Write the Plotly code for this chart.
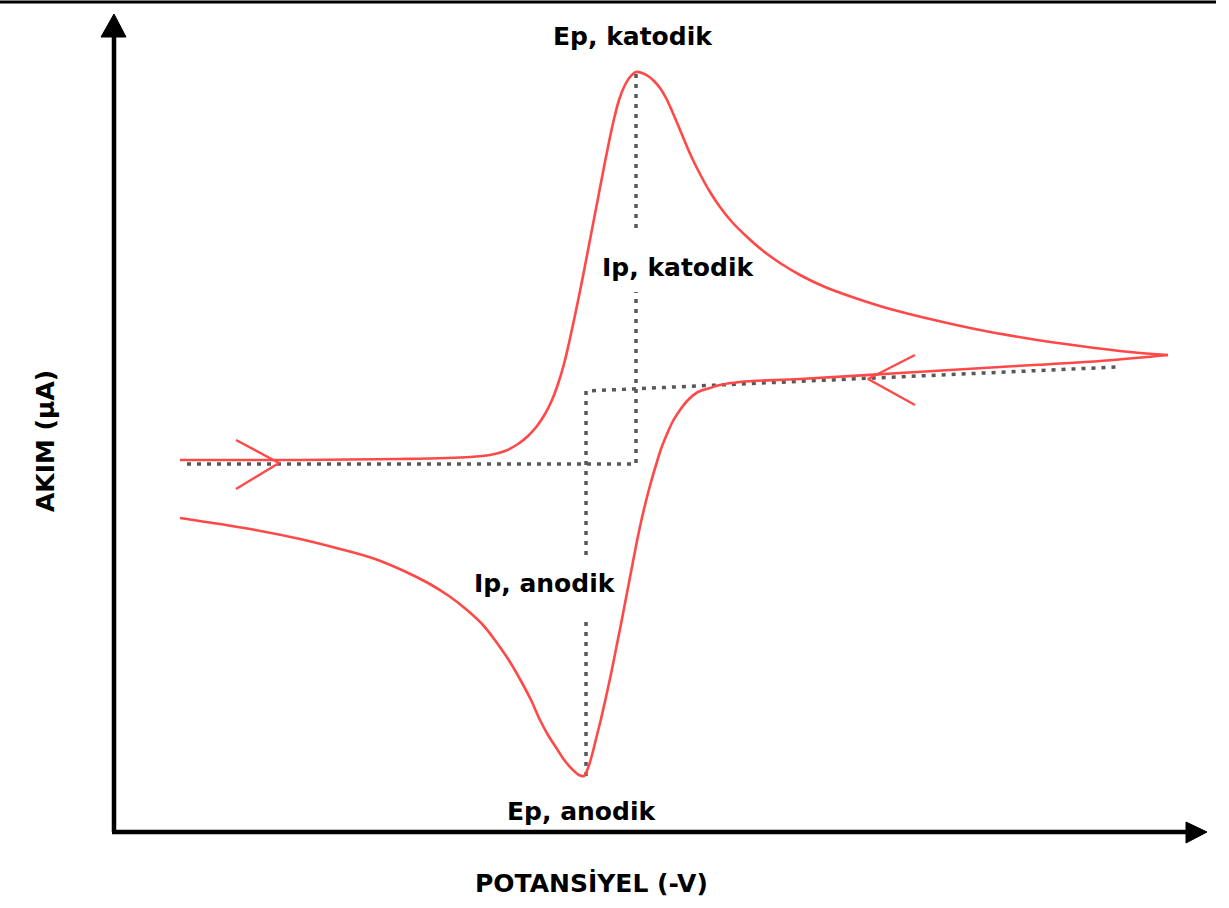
import plotly.graph_objects as go

# Data coordinates: potential (x) and current (y), origin at the axes corner
# Forward (cathodic) sweep – upper branch
fwd_E = [66, 186, 286, 356, 376, 391, 404, 414, 423, 431, 438, 444, 450, 455, 460, 465,
         470, 475, 480, 485, 490, 495, 500, 505, 510, 516, 522, 528, 534, 540, 546, 552,
         558, 564, 571, 578, 586, 596, 606, 618, 632, 648, 666, 686, 711, 741, 776, 816,
         861, 911, 966, 1016, 1054]
fwd_I = [372, 372, 373, 375, 377, 381, 388, 396, 406, 418, 432, 448, 468, 489, 512, 536,
         561, 587, 613, 639, 665, 690, 713, 732, 745, 755, 760, 759, 756, 751, 744, 734,
         721, 707, 690, 674, 658, 640, 625, 610, 596, 582, 569, 557, 545, 534, 523, 513,
         503, 494, 486, 480, 477]

# Reverse (anodic) sweep – lower branch
rev_E = [1054, 986, 886, 786, 686, 626, 606, 596, 584, 574, 566, 559, 553, 547, 542, 537,
         532, 527, 522, 517, 512, 507, 502, 497, 492, 487, 482, 478, 474, 470, 465, 459,
         451, 443, 434, 426, 417, 407, 396, 383, 369, 353, 335, 314, 290, 261, 226, 186,
         136, 66]
rev_I = [477, 471, 465, 459, 453, 450, 447, 444, 440, 432, 422, 411, 398, 383, 367, 350,
         331, 310, 286, 260, 234, 208, 183, 158, 135, 113, 93, 77, 64, 56, 57, 62,
         71, 83, 97, 112, 132, 151, 170, 189, 207, 222, 236, 249, 261, 273, 283, 293,
         303, 314]

# Dotted construction lines (None = interruption behind a label)
cat_E = [73, 522, 522, None, 522, 522]
cat_I = [368, 368, 540, None, 604, 760]
an_E = [472, 472, None, 472, 472, 1003]
an_I = [56, 214, None, 277, 441, 465]

# Sweep direction chevrons
chev1_E = [122, 165, 122]
chev1_I = [392, 369, 343]
chev2_E = [801, 754, 801]
chev2_I = [477, 453, 427]

# Axes with arrow heads
xaxis_E = [-2, 1073]
xaxis_I = [0, 0]
yaxis_E = [0, 0]
yaxis_I = [0, 796]
xhead_E = [1072, 1072, 1093, 1072]
xhead_I = [10, -11, 0, 10]
yhead_E = [-13, 12, 0, -13]
yhead_I = [795, 795, 818, 795]

labels = ["Ep, katodik", "Ip, katodik", "Ip, anodik", "Ep, anodik"]
label_E = [519, 564, 431, 467]
label_I = [796, 565, 249, 21]

RED = "rgb(255,72,72)"
DOT = "rgb(88,88,88)"

fig = go.Figure()

fig.add_trace(go.Scatter(x=cat_E, y=cat_I, mode="lines", connectgaps=False,
                         line=dict(color=DOT, width=3.5, dash="4px,6px")))
fig.add_trace(go.Scatter(x=an_E, y=an_I, mode="lines", connectgaps=False,
                         line=dict(color=DOT, width=3.5, dash="4px,6px")))

fig.add_trace(go.Scatter(x=fwd_E, y=fwd_I, mode="lines",
                         line=dict(color=RED, width=2.6, shape="spline", smoothing=1.0)))
fig.add_trace(go.Scatter(x=rev_E, y=rev_I, mode="lines",
                         line=dict(color=RED, width=2.6, shape="spline", smoothing=1.0)))

fig.add_trace(go.Scatter(x=chev1_E, y=chev1_I, mode="lines",
                         line=dict(color=RED, width=2.4)))
fig.add_trace(go.Scatter(x=chev2_E, y=chev2_I, mode="lines",
                         line=dict(color=RED, width=2.4)))

fig.add_trace(go.Scatter(x=xaxis_E, y=xaxis_I, mode="lines",
                         line=dict(color="black", width=4.5)))
fig.add_trace(go.Scatter(x=yaxis_E, y=yaxis_I, mode="lines",
                         line=dict(color="black", width=4.5)))
fig.add_trace(go.Scatter(x=xhead_E, y=xhead_I, mode="lines", fill="toself",
                         fillcolor="black", line=dict(color="black", width=1)))
fig.add_trace(go.Scatter(x=yhead_E, y=yhead_I, mode="lines", fill="toself",
                         fillcolor="black", line=dict(color="black", width=1)))

FONT = dict(family="DejaVu Sans", size=25, color="black")

for txt, xe, yi in zip(labels, label_E, label_I):
    fig.add_annotation(x=xe, y=yi, text="<b>%s</b>" % txt, showarrow=False,
                       xanchor="center", yanchor="middle", font=FONT)

fig.add_annotation(x=477, y=-51, text="<b>POTANSİYEL (-V)</b>", showarrow=False,
                   xanchor="center", yanchor="middle", font=FONT)
fig.add_annotation(x=-69, y=391, text="<b>AKIM (µA)</b>", showarrow=False,
                   textangle=-90, xanchor="center", yanchor="middle", font=FONT)

# top frame rule
fig.add_shape(type="line", x0=-114, x1=1102, y0=830, y1=830,
              line=dict(color="black", width=3))

fig.update_layout(
    width=1229, height=908,
    margin=dict(l=0, r=0, t=0, b=0),
    paper_bgcolor="white", plot_bgcolor="white",
    showlegend=False,
    xaxis=dict(range=[-114, 1115], visible=False, fixedrange=True),
    yaxis=dict(range=[-76, 832], visible=False, fixedrange=True),
)

fig.write_html("out.html")
